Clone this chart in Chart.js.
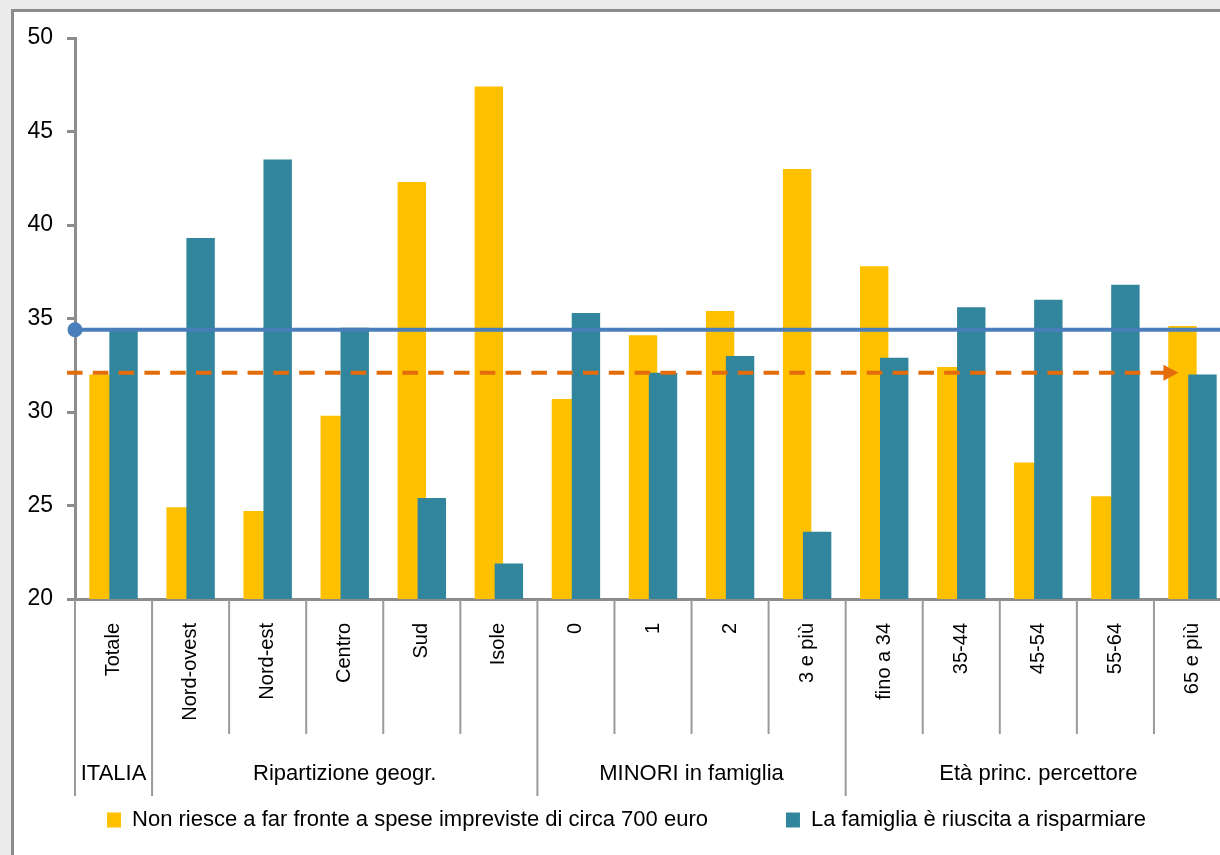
<!DOCTYPE html>
<html>
<head>
<meta charset="utf-8">
<script src="https://cdn.jsdelivr.net/npm/chart.js@4.4.1/dist/chart.umd.min.js"></script>
<style>
    html, body { margin: 0; padding: 0; background: #ebebeb; overflow: hidden; width: 1220px; height: 855px; }
    #box { position: absolute; left: 11px; top: 9px; width: 1300px; height: 900px; background: #fff; border: 3px solid #8c8c8c; box-sizing: border-box; }
    #chart { position: absolute; left: 0; top: 0; }
</style>
</head>
<body>
<div id="box"></div>
<canvas id="chart" width="1240" height="855"></canvas>
<script>
// Dati
const categorie = ['Totale', 'Nord-ovest', 'Nord-est', 'Centro', 'Sud', 'Isole', '0', '1', '2', '3 e più', 'fino a 34', '35-44', '45-54', '55-64', '65 e più'];
const gruppi = ['ITALIA', 'Ripartizione geogr.', 'MINORI in famiglia', 'Età princ. percettore'];
const gruppiInizio = [0, 1, 6, 10];   // prima categoria di ogni gruppo
const nonRiesce = [32.0, 24.9, 24.7, 29.8, 42.3, 47.4, 30.7, 34.1, 35.4, 43.0, 37.8, 32.4, 27.3, 25.5, 34.6];
const risparmio = [34.4, 39.3, 43.5, 34.5, 25.4, 21.9, 35.3, 32.1, 33.0, 23.6, 32.9, 35.6, 36.0, 36.8, 32.0];
const lineaRisparmio = 34.4;
const lineaNonRiesce = 32.1;
const yMin = 20, yMax = 50, yPasso = 5;

const GRIGIO = '#8c8c8c';

// disegna le barre blu sopra le gialle, poi le linee di riferimento
const sovrapposizione = {
    id: 'sovrapposizione',
    beforeDatasetDraw(chart, args) {
        if (args.index === 1) return false;
    },
    afterDatasetsDraw(chart) {
        const ctx = chart.ctx;
        const xs = chart.scales.x, ys = chart.scales.y, area = chart.chartArea;

        ctx.save();
        ctx.beginPath();
        ctx.rect(area.left, area.top, area.right - area.left, area.bottom - area.top);
        ctx.clip();
        chart.getDatasetMeta(1).controller.draw();
        ctx.restore();

        // linea blu (risparmio Italia)
        const yb = ys.getPixelForValue(lineaRisparmio);
        ctx.save();
        ctx.strokeStyle = '#4a7ebb';
        ctx.fillStyle = '#4a7ebb';
        ctx.lineWidth = 4;
        ctx.beginPath();
        ctx.moveTo(area.left, yb);
        ctx.lineTo(chart.width, yb);
        ctx.stroke();
        ctx.beginPath();
        ctx.arc(area.left, yb, 7.5, 0, Math.PI * 2);
        ctx.fill();

        // linea arancione tratteggiata con freccia
        const yo = ys.getPixelForValue(lineaNonRiesce);
        const xPunta = xs.getPixelForValue(categorie.length - 1) - 14;
        ctx.strokeStyle = '#e46c0a';
        ctx.fillStyle = '#e46c0a';
        ctx.setLineDash([15.5, 10.3]);
        ctx.beginPath();
        ctx.moveTo(area.left - 8, yo);
        ctx.lineTo(xPunta - 14, yo);
        ctx.stroke();
        ctx.setLineDash([]);
        ctx.beginPath();
        ctx.moveTo(xPunta, yo);
        ctx.lineTo(xPunta - 15, yo - 8);
        ctx.lineTo(xPunta - 15, yo + 8);
        ctx.closePath();
        ctx.fill();
        ctx.restore();
    },
    afterDraw(chart) {
        const ctx = chart.ctx;
        const xs = chart.scales.x, area = chart.chartArea;
        const mezza = (xs.getPixelForValue(1) - xs.getPixelForValue(0)) / 2;
        const y0 = area.bottom + 1, y1 = area.bottom + 135, y2 = area.bottom + 197;

        ctx.save();
        ctx.strokeStyle = '#9a9a9a';
        ctx.lineWidth = 2;
        for (let i = 0; i <= categorie.length; i++) {
            const bx = xs.getPixelForValue(i) - mezza;
            ctx.beginPath();
            ctx.moveTo(bx, y0);
            ctx.lineTo(bx, y1);
            ctx.stroke();
        }
        gruppiInizio.forEach(function(g) {
            const bx = xs.getPixelForValue(g) - mezza;
            ctx.beginPath();
            ctx.moveTo(bx, y1);
            ctx.lineTo(bx, y2);
            ctx.stroke();
        });

        // etichette dei gruppi
        ctx.fillStyle = '#000';
        ctx.font = '22px "Liberation Sans", Arial, sans-serif';
        ctx.textAlign = 'center';
        ctx.textBaseline = 'middle';
        gruppi.forEach(function(nome, k) {
            const da = gruppiInizio[k];
            const a = k + 1 < gruppiInizio.length ? gruppiInizio[k + 1] - 1 : categorie.length - 1;
            const cx = (xs.getPixelForValue(da) + xs.getPixelForValue(a)) / 2;
            ctx.fillText(nome, cx, area.bottom + 175);
        });
        ctx.restore();
    }
};

document.addEventListener('DOMContentLoaded', function() {
    Chart.defaults.font.family = '"Liberation Sans", Arial, sans-serif';

    new Chart(document.getElementById('chart').getContext('2d'), {
        type: 'bar',
        data: {
            labels: categorie,
            datasets: [{
                label: 'Non riesce a far fronte a spese impreviste di circa 700 euro',
                data: nonRiesce,
                backgroundColor: '#ffc000',
                borderWidth: 0
            }, {
                label: 'La famiglia è riuscita a risparmiare',
                data: risparmio,
                backgroundColor: '#31859c',
                borderWidth: 0
            }]
        },
        options: {
            responsive: false,
            animation: false,
            layout: {
                padding: { left: 22, right: 9, top: 38, bottom: 14 }
            },
            datasets: {
                bar: {
                    categoryPercentage: 0.519,
                    barPercentage: 1.42
                }
            },
            plugins: {
                tooltip: { enabled: false },
                title: { display: false },
                legend: {
                    display: true,
                    position: 'bottom',
                    labels: {
                        boxWidth: 14,
                        boxHeight: 15,
                        padding: 78,
                        color: '#000',
                        font: { size: 22 }
                    }
                }
            },
            scales: {
                x: {
                    z: 1,
                    offset: true,
                    grid: { display: false },
                    border: { color: GRIGIO, width: 3 },
                    ticks: {
                        autoSkip: false,
                        minRotation: 90,
                        maxRotation: 90,
                        padding: 16,
                        color: '#000',
                        font: { size: 20 }
                    },
                    afterFit: function(scale) { scale.height = 132; }
                },
                y: {
                    min: yMin,
                    max: yMax,
                    grid: {
                        drawOnChartArea: false,
                        drawTicks: true,
                        tickLength: 8,
                        color: GRIGIO,
                        lineWidth: 3
                    },
                    border: { color: GRIGIO, width: 3 },
                    ticks: {
                        stepSize: yPasso,
                        padding: 14,
                        color: '#000',
                        font: { size: 23 }
                    },
                    afterFit: function(scale) { scale.width = 53; }
                }
            }
        },
        plugins: [sovrapposizione]
    });
});
</script>
</body>
</html>
